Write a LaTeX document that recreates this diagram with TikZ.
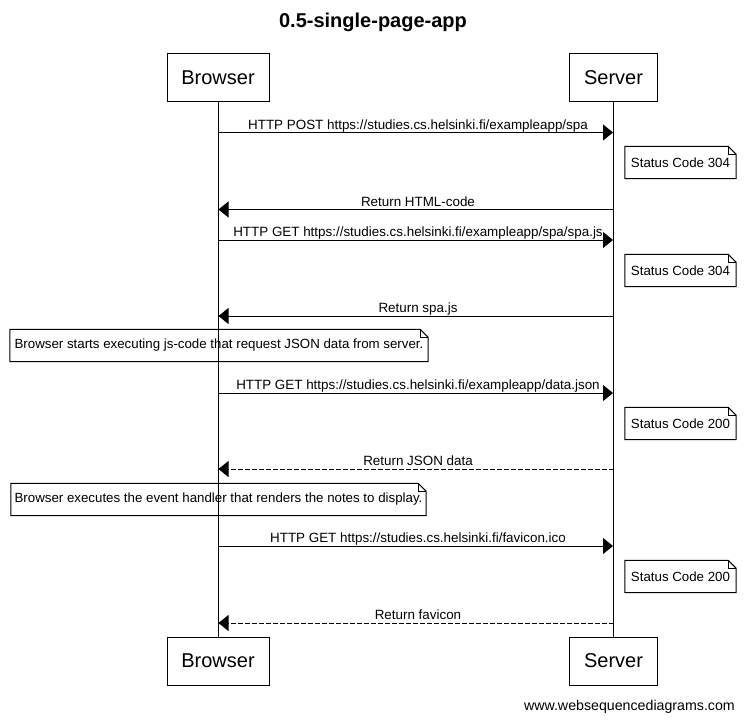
\documentclass[tikz,border=0pt]{standalone}
\usepackage{fontspec}
\setmainfont{Liberation Sans}
\usetikzlibrary{arrows.meta}

\tikzset{
  actor/.style={draw, line width=1pt, minimum width=#1, minimum height=48pt,
    inner sep=0pt, font=\fontsize{20}{24}\selectfont},
  msg/.style={line width=1pt, -{Triangle[length=10pt,width=16pt]}, shorten >=0.5pt},
  reply/.style={msg, dash pattern=on 4.5pt off 2.5pt},
  lbl/.style={anchor=base, inner sep=0pt, font=\fontsize{13.4}{16}\selectfont},
  notetext/.style={inner sep=0pt, minimum height=32pt, font=\fontsize{13.3}{16}\selectfont},
  life/.style={line width=1pt},
  notepath/.style={line width=1pt}
}

% note box with a folded top-right corner around an (invisible) node
\newcommand{\foldnote}[1]{%
  \draw[notepath] (#1.south west) -- (#1.north west) -- ([xshift=-8pt]#1.north east)
    -- ([yshift=-8pt]#1.north east) -- (#1.south east) -- cycle;
  \draw[notepath] ([xshift=-8pt]#1.north east) -- ([xshift=-8pt,yshift=-8pt]#1.north east)
    -- ([yshift=-8pt]#1.north east);
}

\begin{document}
\begin{tikzpicture}[x=1pt, y=-1pt]
  \useasboundingbox (0,0) rectangle (744,720);

  % title
  \node[font=\fontsize{20}{24}\bfseries\selectfont] (title) at (373,22) {0.5-single-page-app};

  % participants
  \node[actor=102pt] (bT) at (218,77.5) {Browser};
  \node[actor=88pt]  (sT) at (613.5,77.5) {Server};
  \node[actor=102pt] (bB) at (218,661) {Browser};
  \node[actor=88pt]  (sB) at (613.5,661) {Server};

  % lifelines
  \draw[life] (bT.south) -- (bB.north);
  \draw[life] (sT.south) -- (sB.north);

  % points on the lifelines for the messages
  \foreach \n/\y in {1/132.5, 2/209.5, 3/240, 4/316, 5/393, 6/469, 7/546, 8/623} {
    \coordinate (b\n) at (218,\y);
    \coordinate (s\n) at (613.5,\y);
  }

  % messages
  \draw[msg] (b1) -- (s1);
  \node[lbl] (l1) at (418,129) {HTTP POST https://studies.cs.helsinki.fi/exampleapp/spa};
  \draw[msg] (s2) -- (b2);
  \node[lbl] (l2) at (418,206) {Return HTML-code};
  \draw[msg] (b3) -- (s3);
  \node[lbl] (l3) at (418,236.5) {HTTP GET https://studies.cs.helsinki.fi/exampleapp/spa/spa.js};
  \draw[msg] (s4) -- (b4);
  \node[lbl] (l4) at (418,312.5) {Return spa.js};
  \draw[msg] (b5) -- (s5);
  \node[lbl] (l5) at (418,389.5) {HTTP GET https://studies.cs.helsinki.fi/exampleapp/data.json};
  \draw[reply] (s6) -- (b6);
  \node[lbl] (l6) at (418,465.5) {Return JSON data};
  \draw[msg] (b7) -- (s7);
  \node[lbl] (l7) at (418,542.5) {HTTP GET https://studies.cs.helsinki.fi/favicon.ico};
  \draw[reply] (s8) -- (b8);
  \node[lbl] (l8) at (418,619.5) {Return favicon};

  % notes
  \node[notetext, minimum width=111pt] (n1) at (680.5,162.5) {Status Code 304};
  \foldnote{n1}
  \node[notetext, minimum width=111pt] (n2) at (680.5,270.5) {Status Code 304};
  \foldnote{n2}
  \node[notetext, minimum width=418pt] (n3) at (219,345.5) {Browser starts executing js-code that request JSON data from server.};
  \foldnote{n3}
  \node[notetext, minimum width=111pt] (n4) at (680.5,423.5) {Status Code 200};
  \foldnote{n4}
  \node[notetext, minimum width=415pt] (n5) at (218.5,499.5) {Browser executes the event handler that renders the notes to display.};
  \foldnote{n5}
  \node[notetext, minimum width=111pt] (n6) at (680.5,576.5) {Status Code 200};
  \foldnote{n6}

  % footer
  \node[anchor=base east, inner sep=0pt, font=\fontsize{14.2}{17}\selectfont] (foot) at (735,710) {www.websequencediagrams.com};
\end{tikzpicture}
\end{document}
